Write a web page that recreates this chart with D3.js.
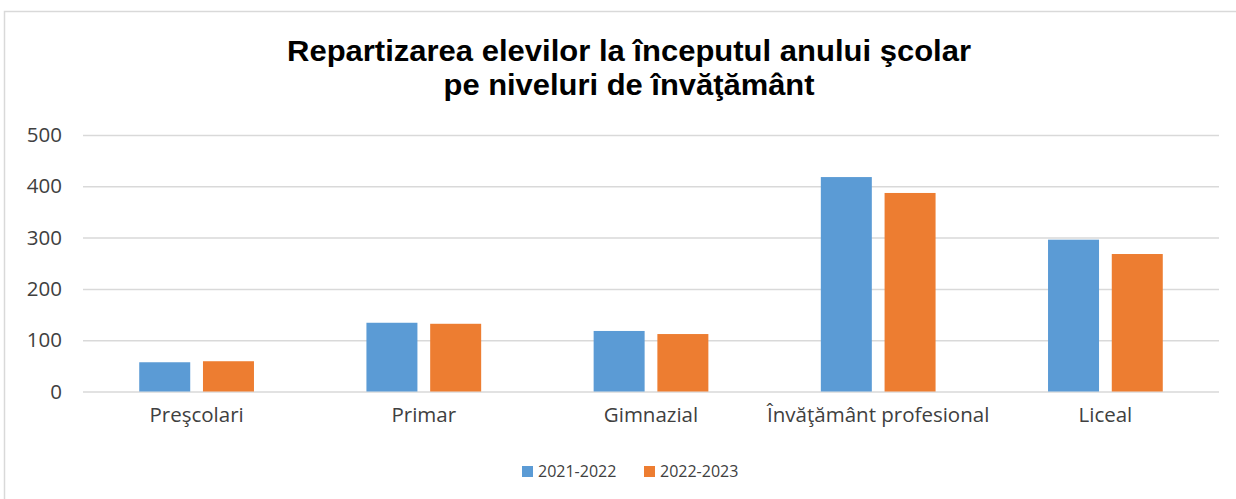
<!DOCTYPE html>
<html>
<head>
<meta charset="utf-8">
<script src="https://cdn.jsdelivr.net/npm/d3@7"></script>
<style>
  html, body { margin: 0; padding: 0; background: #fff; }
  svg { display: block; }
  .tick-label { font-family: "Open Sans", "Noto Sans", sans-serif; font-size: 20.5px; fill: #404040; }
</style>
</head>
<body>
<div id="chart"></div>
<script>
const categories = ["Preşcolari", "Primar", "Gimnazial", "Învăţământ profesional", "Liceal"];
const seriesNames = ["2021-2022", "2022-2023"];
const values2021 = [57, 134, 118, 418, 296];
const values2022 = [59, 132, 112, 387, 268];
const yTicks = [0, 100, 200, 300, 400, 500];
const titleLines = ["Repartizarea elevilor la începutul anului şcolar", "pe niveluri de învăţământ"];
const colors = ["#5b9bd5", "#ed7d31"];

const width = 1236;
const height = 499;
const plot = {left: 83, right: 1219, top: 135, bottom: 391.5};

const svg = d3.select("#chart")
    .append("svg")
    .attr("width", width)
    .attr("height", height);

svg.append("rect")
    .attr("x", 4.5)
    .attr("y", 11.5)
    .attr("width", 1240)
    .attr("height", 500)
    .attr("fill", "#fff")
    .attr("stroke", "#d9d9d9")
    .attr("stroke-width", 1.5);

// title, stretched a little to the width it has in the original
const titleWidths = [684, 371];
svg.append("g")
    .selectAll("text")
    .data(titleLines)
    .join("text")
    .attr("x", 629)
    .attr("y", (d, i) => 61 + i * 34)
    .attr("text-anchor", "middle")
    .attr("font-family", "'Liberation Sans', Arial, sans-serif")
    .attr("font-weight", "bold")
    .attr("font-size", "30px")
    .attr("fill", "#000")
    .attr("textLength", (d, i) => titleWidths[i])
    .attr("lengthAdjust", "spacingAndGlyphs")
    .text(d => d);

const yScale = d3.scaleLinear().domain([0, 500]).range([plot.bottom, plot.top]);
const x0 = d3.scaleBand().domain(categories).range([plot.left, plot.right]);
const barSpan = x0.bandwidth() * 0.505;
const x1 = d3.scaleBand()
    .domain(seriesNames)
    .range([(x0.bandwidth() - barSpan) / 2, (x0.bandwidth() + barSpan) / 2])
    .paddingInner(0.2);

// gridlines
const yAxis = svg.append("g")
    .attr("transform", `translate(${plot.left},0)`)
    .call(d3.axisLeft(yScale).tickValues(yTicks).tickSize(-(plot.right - plot.left)).tickPadding(21));
yAxis.select(".domain").remove();
yAxis.selectAll(".tick line").attr("stroke", "#d9d9d9").attr("stroke-width", 1.5);
yAxis.selectAll(".tick text")
    .attr("class", "tick-label")
    .attr("font-family", null)
    .attr("font-size", null)
    .attr("fill", null);

const rows = categories.map((c, i) => ({cat: c, vals: [values2021[i], values2022[i]]}));

svg.append("g")
    .selectAll("g")
    .data(rows)
    .join("g")
    .attr("transform", d => `translate(${x0(d.cat)},0)`)
    .selectAll("rect")
    .data(d => d.vals.map((v, j) => ({name: seriesNames[j], value: v, color: colors[j]})))
    .join("rect")
    .attr("x", d => x1(d.name))
    .attr("y", d => yScale(d.value))
    .attr("width", x1.bandwidth())
    .attr("height", d => yScale(0) - yScale(d.value))
    .attr("fill", d => d.color);

// category labels
const xAxis = svg.append("g")
    .attr("transform", `translate(0,${plot.bottom})`)
    .call(d3.axisBottom(x0).tickSize(0).tickPadding(16));
xAxis.select(".domain").remove();
xAxis.selectAll(".tick text")
    .attr("class", "tick-label")
    .attr("font-family", null)
    .attr("font-size", null)
    .attr("fill", null);

// legend
const legendX = [522, 644];
const legend = svg.append("g")
    .selectAll("g")
    .data(seriesNames)
    .join("g")
    .attr("transform", (d, i) => `translate(${legendX[i]},466)`);
legend.append("rect")
    .attr("width", 11)
    .attr("height", 11)
    .attr("fill", (d, i) => colors[i]);
legend.append("text")
    .attr("x", 16)
    .attr("y", 11)
    .attr("font-family", "'Open Sans', 'Noto Sans', sans-serif")
    .attr("font-size", "16px")
    .attr("fill", "#404040")
    .text(d => d);
</script>
</body>
</html>
